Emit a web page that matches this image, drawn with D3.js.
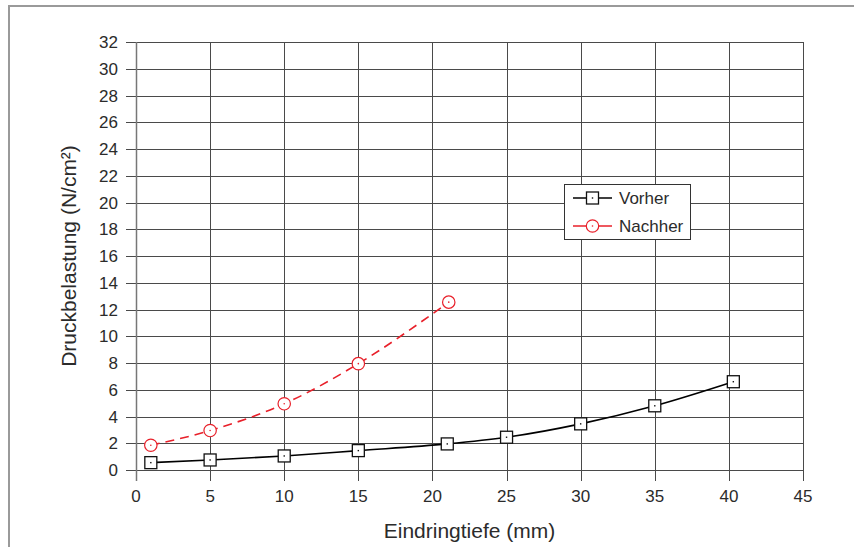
<!DOCTYPE html>
<html>
<head>
<meta charset="utf-8">
<script src="https://cdn.jsdelivr.net/npm/d3@7"></script>
<style>
  body { margin: 0; background: #fff; }
  text { font-family: "Liberation Sans", Arial, sans-serif; fill: #2b2b2b; }
</style>
</head>
<body>
<div id="chart"></div>
<script>
// data
var vorherX = [1, 5, 10, 15, 21, 25, 30, 35, 40.3];
var vorherY = [0.55, 0.75, 1.05, 1.45, 1.95, 2.45, 3.45, 4.8, 6.6];
var nachherX = [1, 5, 10, 15, 21.1];
var nachherY = [1.85, 2.95, 4.95, 7.95, 12.55];
var xTicks = [0, 5, 10, 15, 20, 25, 30, 35, 40, 45];
var yTicks = d3.range(0, 33, 2);

var width = 854, height = 547;
var margin = {left: 136, right: 51, top: 42, bottom: 77};

var svg = d3.select("#chart").append("svg")
  .attr("width", width)
  .attr("height", height);

// open frame (top + left)
svg.append("path")
  .attr("d", "M9,547V6H854")
  .attr("fill", "none")
  .attr("stroke", "#9a9a9a")
  .attr("stroke-width", 2);

var x = d3.scaleLinear().domain([0, 45]).range([margin.left, width - margin.right]);
var y = d3.scaleLinear().domain([0, 32]).range([height - margin.bottom, margin.top]);

// grid + ticks
var grid = svg.append("g").attr("stroke", "#4a4a4a").attr("stroke-width", 1);
grid.selectAll("line.h").data(yTicks).enter().append("line")
  .attr("x1", x(0) - 10).attr("x2", x(45))
  .attr("y1", function(d){ return Math.round(y(d)) + 0.5; })
  .attr("y2", function(d){ return Math.round(y(d)) + 0.5; });
grid.selectAll("line.v").data(xTicks).enter().append("line")
  .attr("x1", function(d){ return Math.round(x(d)) + 0.5; })
  .attr("x2", function(d){ return Math.round(x(d)) + 0.5; })
  .attr("y1", y(32)).attr("y2", y(0) + 11)
  .attr("stroke", function(d){ return (d === 0) ? "#777" : null; })
  .attr("stroke-width", function(d){ return (d === 0) ? 1.5 : null; });

// tick labels
svg.selectAll("text.ylab").data(yTicks).enter().append("text")
  .attr("x", x(0) - 18)
  .attr("y", function(d){ return y(d); })
  .attr("dy", "0.36em")
  .attr("text-anchor", "end")
  .style("font-size", "17px")
  .text(function(d){ return d; });
svg.selectAll("text.xlab").data(xTicks).enter().append("text")
  .attr("x", function(d){ return x(d); })
  .attr("y", y(0) + 32)
  .attr("text-anchor", "middle")
  .style("font-size", "17px")
  .text(function(d){ return d; });

// axis titles
svg.append("text")
  .attr("x", (x(0) + x(45)) / 2)
  .attr("y", 538)
  .attr("text-anchor", "middle")
  .style("font-size", "21px")
  .text("Eindringtiefe (mm)");
svg.append("text")
  .attr("transform", "translate(76," + ((y(0) + y(32)) / 2) + ") rotate(-90)")
  .attr("text-anchor", "middle")
  .style("font-size", "21px")
  .text("Druckbelastung (N/cm²)");

var line = d3.line()
  .x(function(d){ return x(d[0]); })
  .y(function(d){ return y(d[1]); })
  .curve(d3.curveMonotoneX);

var vorher = d3.zip(vorherX, vorherY);
var nachher = d3.zip(nachherX, nachherY);

svg.append("path").datum(vorher)
  .attr("d", line)
  .attr("fill", "none")
  .attr("stroke", "#000")
  .attr("stroke-width", 1.6);
svg.append("path").datum(nachher)
  .attr("d", line)
  .attr("fill", "none")
  .attr("stroke", "#e8202a")
  .attr("stroke-width", 1.6)
  .attr("stroke-dasharray", "9,6");

function square(g, cx, cy) {
  g.append("rect")
    .attr("x", cx - 6).attr("y", cy - 6)
    .attr("width", 12).attr("height", 12)
    .attr("fill", "#fff").attr("stroke", "#111").attr("stroke-width", 1.3);
  g.append("rect")
    .attr("x", cx - 0.7).attr("y", cy - 0.7)
    .attr("width", 1.4).attr("height", 1.4)
    .attr("fill", "#111");
}
function circ(g, cx, cy) {
  g.append("circle")
    .attr("cx", cx).attr("cy", cy).attr("r", 6.2)
    .attr("fill", "#fff").attr("stroke", "#e8202a").attr("stroke-width", 1.2);
  g.append("circle")
    .attr("cx", cx).attr("cy", cy).attr("r", 0.8)
    .attr("fill", "#e8202a");
}

var marks = svg.append("g");
vorher.forEach(function(d){ square(marks, x(d[0]), y(d[1])); });
nachher.forEach(function(d){ circ(marks, x(d[0]), y(d[1])); });

// legend
var lg = svg.append("g");
lg.append("rect")
  .attr("x", 564.5).attr("y", 184.5)
  .attr("width", 126).attr("height", 55)
  .attr("fill", "#fff").attr("stroke", "#333").attr("stroke-width", 1);
lg.append("line").attr("x1", 573).attr("x2", 612).attr("y1", 198).attr("y2", 198)
  .attr("stroke", "#000").attr("stroke-width", 1.6);
square(lg, 592.5, 198);
lg.append("line").attr("x1", 573).attr("x2", 612).attr("y1", 226).attr("y2", 226)
  .attr("stroke", "#e8202a").attr("stroke-width", 1.6);
circ(lg, 592.5, 226);
lg.append("text").attr("x", 619).attr("y", 198).attr("dy", "0.36em")
  .style("font-size", "17px").text("Vorher");
lg.append("text").attr("x", 619).attr("y", 226).attr("dy", "0.36em")
  .style("font-size", "17px").text("Nachher");
</script>
</body>
</html>
